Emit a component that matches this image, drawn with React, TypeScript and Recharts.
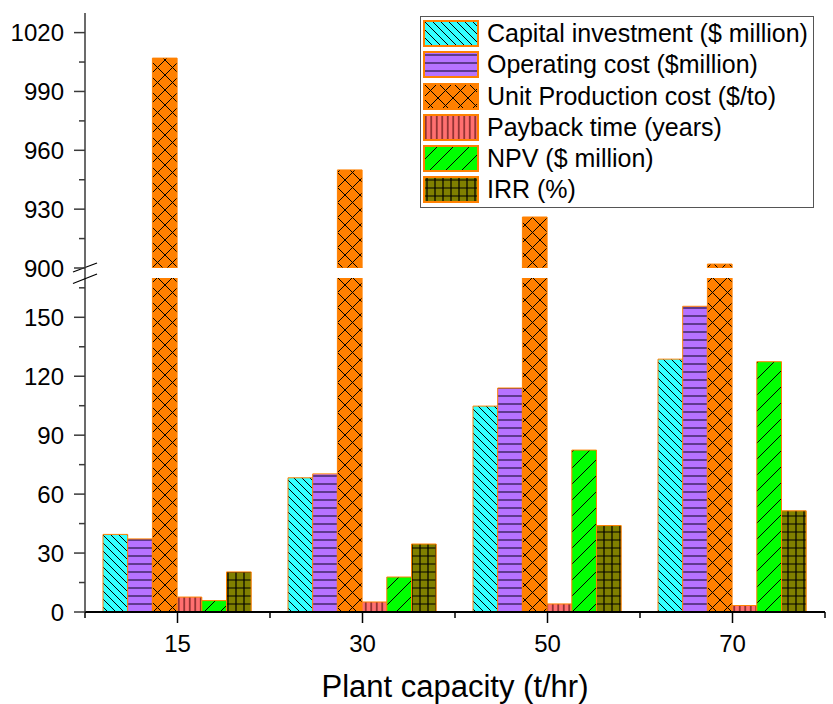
import React from 'react';
import { BarChart, Bar, XAxis, YAxis, Legend } from 'recharts';

// ---------- data ----------
const categories = ['15', '30', '50', '70'];
const capitalInvestment = [39.5, 68.3, 104.8, 128.7];
const operatingCost = [37.2, 70.3, 114.0, 155.6];
const unitProductionCost = [1007, 950, 926, 902];
const paybackTime = [7.6, 5.1, 4.1, 3.3];
const npv = [5.8, 17.8, 82.4, 127.4];
const irr = [20.4, 34.6, 44.0, 51.5];

const seriesNames = [
  'Capital investment ($ million)',
  'Operating cost ($million)',
  'Unit Production cost ($/to)',
  'Payback time (years)',
  'NPV ($ million)',
  'IRR (%)',
];
const seriesKeys = ['capital', 'operating', 'unit', 'payback', 'npv', 'irr'];
const brokenSeries = 'unit';

const lowerMajorTicks = [0, 30, 60, 90, 120, 150];
const lowerMinorTicks = [15, 45, 75, 105, 135, 165];
const upperMajorTicks = [900, 930, 960, 990, 1020];
const upperMinorTicks = [915, 945, 975, 1005];
const lowerDomain: [number, number] = [0, 170];
const upperDomain: [number, number] = [900, 1030];
const xAxisTitle = 'Plant capacity (t/hr)';

const data = categories.map((cat, i) => ({
  cat,
  capital: capitalInvestment[i],
  operating: operatingCost[i],
  unit: unitProductionCost[i],
  payback: paybackTime[i],
  npv: npv[i],
  irr: irr[i],
}));

// ---------- styles ----------
const FONT = '"Liberation Sans", Arial, Helvetica, sans-serif';
const ORANGE = '#FF8000';
const AXIS = '#3a3a3a';
const GAP = 10;

const fills: Record<string, string> = {
  capital: '#33FFFF',
  operating: '#B672FF',
  unit: '#FF8000',
  payback: '#FF7070',
  npv: '#00FF00',
  irr: '#808000',
};

const patternDefs = (prefix: string) => (
  <defs>
    <pattern id={`${prefix}-capital`} patternUnits="userSpaceOnUse" width={8} height={8}>
      <rect width={8} height={8} fill={fills.capital} />
      <path d="M-2,6 L2,10 M0,0 L8,8 M6,-2 L10,2" stroke="#000" strokeWidth={1} />
    </pattern>
    <pattern id={`${prefix}-operating`} patternUnits="userSpaceOnUse" width={8} height={8}>
      <rect width={8} height={8} fill={fills.operating} />
      <path d="M0,4 L8,4" stroke="#2e1a50" strokeWidth={1.3} />
    </pattern>
    <pattern id={`${prefix}-unit`} patternUnits="userSpaceOnUse" width={15} height={15}>
      <rect width={15} height={15} fill={fills.unit} />
      <path
        d="M-3,3 L3,-3 M0,15 L15,0 M12,18 L18,12 M-3,12 L3,18 M0,0 L15,15 M12,-3 L18,3"
        stroke="#000"
        strokeWidth={1}
      />
    </pattern>
    <pattern id={`${prefix}-payback`} patternUnits="userSpaceOnUse" width={5.5} height={10}>
      <rect width={5.5} height={10} fill={fills.payback} />
      <path d="M2.75,0 L2.75,10" stroke="#3a0000" strokeWidth={1} />
    </pattern>
    <pattern id={`${prefix}-npv`} patternUnits="userSpaceOnUse" width={16} height={16}>
      <rect width={16} height={16} fill={fills.npv} />
      <path d="M-4,4 L4,-4 M0,16 L16,0 M12,20 L20,12" stroke="#000" strokeWidth={1} />
    </pattern>
    <pattern id={`${prefix}-irr`} patternUnits="userSpaceOnUse" width={8} height={8}>
      <rect width={8} height={8} fill={fills.irr} />
      <path d="M4,0 L4,8 M0,4 L8,4" stroke="#000" strokeWidth={1.2} />
    </pattern>
  </defs>
);

// ---------- ticks ----------
const breakMarks = (x: number, y: number) => (
  <g>
    <line x1={x} y1={y - GAP} x2={x} y2={y} stroke={AXIS} strokeWidth={1.5} />
    <line x1={x - 12} y1={y - 6} x2={x + 12} y2={y - 15} stroke="#000" strokeWidth={1.3} />
    <line x1={x - 12} y1={y + 5.5} x2={x + 12} y2={y - 4} stroke="#000" strokeWidth={1.3} />
  </g>
);

const makeLeftTick = (majors: number[], breakValue: number | null) => (p: any) => {
  const v = p.payload.value;
  const x = p.x;
  const y = p.y;
  if (breakValue !== null && v === breakValue) return breakMarks(x, y);
  const major = majors.includes(v);
  return (
    <g>
      <line x1={x} y1={y} x2={x - (major ? 11 : 6)} y2={y} stroke={AXIS} strokeWidth={1.5} />
      {major && (
        <text x={x - 21} y={y + 8.5} textAnchor="end" fontSize={24} fontFamily={FONT} fill="#000">
          {v}
        </text>
      )}
    </g>
  );
};

const makeRightTick = (breakValue: number) => (p: any) => {
  const v = p.payload.value;
  if (v !== breakValue) return <g />;
  return breakMarks(p.x, p.y);
};

const renderXTick = (p: any) => {
  const x = p.x;
  const y = p.y;
  const band = p.width && p.visibleTicksCount ? p.width / p.visibleTicksCount : 0;
  const last = p.index === p.visibleTicksCount - 1;
  return (
    <g>
      <line x1={x} y1={y} x2={x} y2={y + 11} stroke="#000" strokeWidth={1.5} />
      {band > 0 && <line x1={x - band / 2} y1={y} x2={x - band / 2} y2={y + 6} stroke="#000" strokeWidth={1.5} />}
      {band > 0 && last && (
        <line x1={x + band / 2} y1={y} x2={x + band / 2} y2={y + 6} stroke="#000" strokeWidth={1.5} />
      )}
      <text x={x} y={y + 40} textAnchor="middle" fontSize={24} fontFamily={FONT} fill="#000">
        {p.payload.value}
      </text>
    </g>
  );
};

// ---------- legend ----------
const renderLegend = (props: any) => {
  const payload: any[] = props.payload || [];
  const ordered = seriesKeys.map((k, i) => {
    const found = payload.find((e) => e.dataKey === k);
    return { key: k, label: found ? found.value : seriesNames[i] };
  });
  return (
    <div
      style={{
        width: 394,
        height: 192,
        boxSizing: 'border-box',
        border: '1px solid #555',
        background: '#fff',
        paddingTop: 1,
        paddingLeft: 2,
        fontFamily: FONT,
      }}
    >
      {ordered.map(({ key, label }) => (
        <div key={key} style={{ display: 'flex', alignItems: 'center', height: 31.26 }}>
          <svg width={56} height={27} style={{ display: 'block', flex: 'none' }}>
            <rect x={1} y={1} width={54} height={25} fill={`url(#u-${key})`} stroke={ORANGE} strokeWidth={2} />
          </svg>
          <span style={{ marginLeft: 8, fontSize: 25, lineHeight: '27px', whiteSpace: 'nowrap', color: '#000' }}>
            {label}
          </span>
        </div>
      ))}
    </div>
  );
};

const bars = (prefix: string, onlyKey: string | null) =>
  seriesKeys.map((k, i) => {
    const visible = onlyKey === null || onlyKey === k;
    return (
      <Bar
        key={k}
        dataKey={k}
        name={seriesNames[i]}
        fill={visible ? `url(#${prefix}-${k})` : 'none'}
        stroke={visible ? ORANGE : 'none'}
        strokeWidth={1}
        isAnimationActive={false}
      />
    );
  });

export default function App() {
  return (
    <div style={{ position: 'absolute', left: 0, top: 0, width: 833, height: 704, background: '#fff', overflow: 'hidden' }}>
      {/* lower segment: 0 - 170 */}
      <div style={{ position: 'absolute', left: 0, top: 0 }}>
        <BarChart
          width={833}
          height={704}
          data={data}
          margin={{ top: 278, right: 8, bottom: 0, left: 0 }}
          barGap={0}
          barSize={24.7}
        >
          {patternDefs('l')}
          <XAxis
            dataKey="cat"
            height={92}
            tickLine={false}
            tickSize={0}
            tickMargin={0}
            tick={renderXTick}
            axisLine={{ stroke: '#000', strokeWidth: 2 }}
            label={{
              value: xAxisTitle,
              position: 'insideBottom',
              offset: 7,
              fontSize: 31,
              fontFamily: FONT,
              fill: '#000',
            }}
          />
          <YAxis
            width={85}
            type="number"
            domain={lowerDomain}
            allowDataOverflow
            ticks={[...lowerMajorTicks, ...lowerMinorTicks, lowerDomain[1]]}
            interval={0}
            tickLine={false}
            tickSize={0}
            tickMargin={0}
            tick={makeLeftTick(lowerMajorTicks, lowerDomain[1])}
            axisLine={{ stroke: AXIS, strokeWidth: 1.5 }}
          />
          <YAxis
            yAxisId="right"
            orientation="right"
            width={0}
            type="number"
            domain={lowerDomain}
            allowDataOverflow
            ticks={[lowerDomain[1]]}
            interval={0}
            tickLine={false}
            tickSize={0}
            tickMargin={0}
            tick={makeRightTick(lowerDomain[1])}
            axisLine={{ stroke: AXIS, strokeWidth: 1.5 }}
          />
          {bars('l', null)}
        </BarChart>
      </div>
      {/* upper segment: 900 - 1030 */}
      <div style={{ position: 'absolute', left: 0, top: 0 }}>
        <BarChart
          width={833}
          height={290}
          data={data}
          margin={{ top: 13, right: 8, bottom: 22, left: 0 }}
          barGap={0}
          barSize={24.7}
        >
          {patternDefs('u')}
          <XAxis dataKey="cat" hide />
          <XAxis
            xAxisId="top"
            dataKey="cat"
            orientation="top"
            height={0}
            tick={false}
            tickLine={false}
            axisLine={{ stroke: AXIS, strokeWidth: 1.5 }}
          />
          <YAxis
            width={85}
            type="number"
            domain={upperDomain}
            allowDataOverflow
            ticks={[...upperMajorTicks, ...upperMinorTicks]}
            interval={0}
            tickLine={false}
            tickSize={0}
            tickMargin={0}
            tick={makeLeftTick(upperMajorTicks, null)}
            axisLine={{ stroke: AXIS, strokeWidth: 1.5 }}
          />
          <YAxis
            yAxisId="right"
            orientation="right"
            width={0}
            type="number"
            domain={upperDomain}
            allowDataOverflow
            tick={false}
            tickLine={false}
            axisLine={{ stroke: AXIS, strokeWidth: 1.5 }}
          />
          <Legend
            layout="horizontal"
            align="center"
            verticalAlign="middle"
            content={renderLegend}
            wrapperStyle={{ left: 420, top: 16, width: 394, height: 192 }}
          />
          {bars('u', brokenSeries)}
        </BarChart>
      </div>
    </div>
  );
}
